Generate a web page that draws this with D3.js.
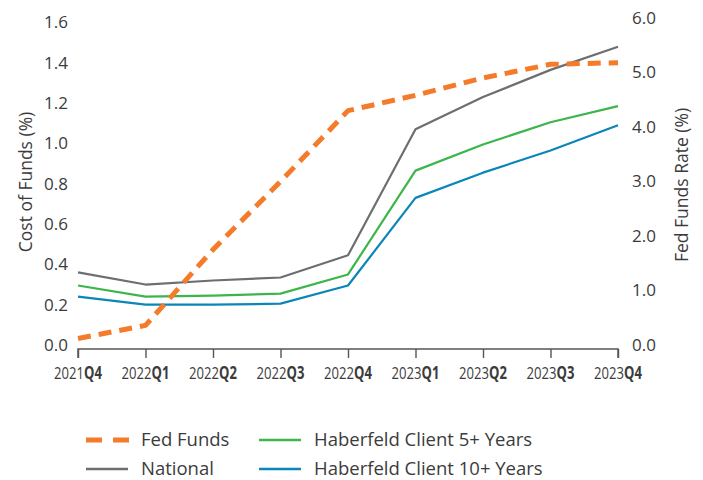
<!DOCTYPE html>
<html lang="en">
<head>
<meta charset="utf-8">
<title>Cost of Funds vs Fed Funds</title>
<script src="https://cdn.jsdelivr.net/npm/d3@7"></script>
<style>
  body { margin: 0; background: #fff; }
  text { font-family: "Open Sans", Lato, sans-serif; fill: #3b3b3b; }
  .ytick text { font-size: 17px; }
  .xlab { font-size: 17px; }
  .legend text { font-size: 18.5px; }
  .atitle { font-size: 17.5px; }
</style>
</head>
<body>
<script>
// quarters on the x axis
var quarters = ["2021Q4", "2022Q1", "2022Q2", "2022Q3", "2022Q4", "2023Q1", "2023Q2", "2023Q3", "2023Q4"];

// left axis, cost of funds (%)
var national  = [0.36, 0.30, 0.32, 0.335, 0.445, 1.07, 1.23, 1.365, 1.48];
var client5   = [0.295, 0.24, 0.245, 0.255, 0.35, 0.865, 0.995, 1.105, 1.185];
var client10  = [0.24, 0.20, 0.20, 0.205, 0.295, 0.73, 0.855, 0.965, 1.09];
// right axis, fed funds rate (%)
var fedFunds  = [0.12, 0.36, 1.75, 3.0, 4.3, 4.58, 4.9, 5.15, 5.18];

var leftTicks  = [0, 0.2, 0.4, 0.6, 0.8, 1.0, 1.2, 1.4, 1.6];
var rightTicks = [0, 1, 2, 3, 4, 5, 6];

var W = 703, H = 480;
var svg = d3.select("body").append("svg").attr("width", W).attr("height", H);

var x = d3.scalePoint().domain(quarters).range([78, 618]);
var yL = d3.scaleLinear().domain([0, 1.6]).range([345, 22.5]);
var yR = d3.scaleLinear().domain([0, 6]).range([345, 18]);

// y axes (labels only)
svg.append("g").attr("class", "ytick")
    .attr("transform", "translate(78,0)")
    .call(d3.axisLeft(yL).tickValues(leftTicks).tickFormat(d3.format(".1f")).tickSize(0).tickPadding(10))
    .call(g => g.select(".domain").remove());

svg.append("g").attr("class", "ytick")
    .attr("transform", "translate(618,0)")
    .call(d3.axisRight(yR).tickValues(rightTicks).tickFormat(d3.format(".1f")).tickSize(0).tickPadding(14))
    .call(g => g.select(".domain").remove());

svg.selectAll(".ytick").attr("font-family", null).attr("font-size", null);
svg.selectAll(".ytick text").attr("fill", "#3b3b3b");

// axis titles
svg.append("text").attr("class", "atitle")
    .attr("transform", "translate(32,182) rotate(-90)")
    .attr("text-anchor", "middle")
    .text("Cost of Funds (%)");
svg.append("text").attr("class", "atitle")
    .attr("transform", "translate(688,185) rotate(-90)")
    .attr("text-anchor", "middle")
    .text("Fed Funds Rate (%)");

// x axis, sitting a few px under the zero line
var xg = svg.append("g").attr("transform", "translate(0,349)");
xg.call(d3.axisBottom(x).tickSize(9).tickFormat(""))
    .call(g => g.select(".domain").attr("d", "M78,9V0H618V9"));
xg.selectAll("line, path").attr("stroke", "#555").attr("stroke-width", 1.4);

var lab = svg.selectAll(".xlab").data(quarters).enter().append("text")
    .attr("class", "xlab")
    .attr("transform", d => "translate(" + x(d) + ",379) scale(0.77,1)")
    .attr("text-anchor", "middle");
lab.append("tspan").text(d => d.slice(0, 4));
lab.append("tspan").style("font-weight", "bold").text(d => d.slice(4));

// lines
var seriesLeft = [
    { name: "National", values: national, color: "#6d6e71" },
    { name: "Haberfeld Client 5+ Years", values: client5, color: "#3cb54a" },
    { name: "Haberfeld Client 10+ Years", values: client10, color: "#0b86b8" }
];

seriesLeft.forEach(function(s) {
    var line = d3.line().x((d, i) => x(quarters[i])).y(d => yL(d));
    svg.append("path")
        .attr("d", line(s.values))
        .attr("fill", "none")
        .attr("stroke", s.color)
        .attr("stroke-width", 2.2)
        .attr("stroke-linejoin", "round");
});

var fedLine = d3.line().x((d, i) => x(quarters[i])).y(d => yR(d));
svg.append("path")
    .attr("d", fedLine(fedFunds))
    .attr("fill", "none")
    .attr("stroke", "#f47b2a")
    .attr("stroke-width", 5)
    .attr("stroke-dasharray", "13,8")
    .attr("stroke-linejoin", "round");

// legend
var legendItems = [
    { name: "Fed Funds", color: "#f47b2a", dash: true, x: 86, y: 440 },
    { name: "National", color: "#6d6e71", dash: false, x: 86, y: 469 },
    { name: "Haberfeld Client 5+ Years", color: "#3cb54a", dash: false, x: 259, y: 440 },
    { name: "Haberfeld Client 10+ Years", color: "#0b86b8", dash: false, x: 259, y: 469 }
];
var lg = svg.append("g").attr("class", "legend").selectAll("g").data(legendItems).enter().append("g")
    .attr("transform", d => "translate(" + d.x + "," + d.y + ")");
lg.append("line")
    .attr("x1", 0).attr("x2", d => d.dash ? 43 : 42)
    .attr("stroke", d => d.color)
    .attr("stroke-width", d => d.dash ? 5 : 2.5)
    .attr("stroke-dasharray", d => d.dash ? "16,11" : null);
lg.append("text")
    .attr("x", 55)
    .attr("dy", "0.35em")
    .text(d => d.name);
</script>
</body>
</html>
